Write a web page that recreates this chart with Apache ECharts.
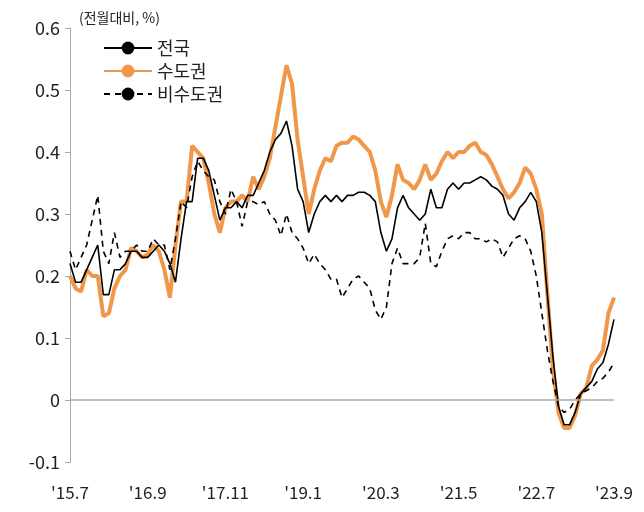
<!DOCTYPE html>
<html>
<head>
<meta charset="utf-8">
<script src="https://cdn.jsdelivr.net/npm/echarts@6/dist/echarts.min.js"></script>
<style>html,body{margin:0;padding:0;background:#fff}#chart{width:644px;height:512px}</style>
</head>
<body>
<div id="chart"></div>
<script>
// 2015.7 ~ 2023.9, monthly
const months = [];
for (let y = 2015, m = 7; y < 2023 || (y === 2023 && m <= 9); m++) {
  if (m > 12) { m = 1; y++; }
  months.push("'" + String(y).slice(2) + '.' + m);
}

const national = [0.22,0.19,0.19,0.21,0.23,0.25,0.17,0.17,0.21,0.21,0.22,0.24,0.24,0.23,0.23,0.24,0.25,0.24,0.22,0.19,
  0.26,0.32,0.32,0.39,0.39,0.37,0.33,0.29,0.31,0.31,0.32,0.31,0.33,0.33,0.35,0.37,0.40,0.42,0.43,0.45,
  0.41,0.34,0.32,0.27,0.30,0.32,0.33,0.32,0.33,0.32,0.33,0.33,0.335,0.335,0.33,0.32,0.27,0.24,0.26,0.31,
  0.33,0.31,0.30,0.29,0.30,0.34,0.31,0.31,0.34,0.35,0.34,0.35,0.35,0.355,0.36,0.355,0.345,0.34,0.33,0.30,
  0.29,0.31,0.32,0.335,0.32,0.27,0.17,0.07,-0.01,-0.04,-0.04,-0.02,0.01,0.02,0.03,0.05,0.06,0.09,0.13];

const capital = [0.20,0.18,0.175,0.21,0.20,0.20,0.135,0.14,0.18,0.20,0.21,0.245,0.24,0.23,0.235,0.25,0.24,0.21,0.165,0.25,
  0.32,0.32,0.41,0.40,0.39,0.35,0.30,0.27,0.31,0.32,0.32,0.33,0.32,0.36,0.34,0.36,0.39,0.44,0.49,0.54,
  0.51,0.42,0.36,0.30,0.34,0.37,0.39,0.385,0.41,0.415,0.415,0.425,0.42,0.41,0.40,0.37,0.32,0.295,0.33,0.38,
  0.355,0.35,0.34,0.355,0.38,0.355,0.365,0.385,0.40,0.39,0.40,0.40,0.41,0.415,0.40,0.395,0.38,0.36,0.34,0.325,
  0.335,0.35,0.375,0.365,0.34,0.30,0.17,0.05,-0.02,-0.045,-0.045,-0.025,0.01,0.02,0.055,0.065,0.08,0.14,0.165];

const nonCapital = [0.24,0.21,0.23,0.25,0.29,0.33,0.24,0.22,0.27,0.23,0.24,0.24,0.25,0.24,0.24,0.26,0.25,0.25,0.21,0.26,
  0.32,0.31,0.36,0.385,0.37,0.36,0.355,0.32,0.30,0.34,0.32,0.28,0.32,0.32,0.315,0.32,0.30,0.29,0.265,0.30,
  0.27,0.26,0.245,0.22,0.235,0.22,0.21,0.195,0.195,0.165,0.18,0.195,0.20,0.19,0.18,0.145,0.13,0.15,0.22,0.245,
  0.22,0.22,0.22,0.23,0.285,0.22,0.215,0.24,0.26,0.265,0.26,0.27,0.27,0.26,0.26,0.255,0.26,0.255,0.23,0.245,
  0.26,0.265,0.26,0.24,0.20,0.14,0.08,0.03,-0.01,-0.02,-0.015,0.00,0.01,0.015,0.02,0.03,0.035,0.045,0.06];

const yTicks = { min: -0.1, max: 0.6, interval: 0.1 };
const font = 'Noto Sans CJK KR';

const chart = echarts.init(document.getElementById('chart'));
chart.setOption({
  animation: false,
  textStyle: { fontFamily: font },
  title: { text: '(전월대비, %)', left: 74, top: 6, textStyle: { fontSize: 14, fontWeight: 'normal', color: '#222', fontFamily: font } },
  legend: {
    orient: 'vertical', left: 98, top: 34, itemGap: 5, itemWidth: 48, itemHeight: 16,
    textStyle: { fontSize: 18, color: '#222', fontFamily: font },
    data: ['전국', '수도권', '비수도권']
  },
  grid: { left: 70, right: 30, top: 28, bottom: 50 },
  xAxis: {
    type: 'category', data: months, boundaryGap: false,
    axisLine: { show: false }, axisTick: { show: false },
    axisLabel: { interval: 13, fontSize: 17, color: '#222', margin: 22, fontFamily: font }
  },
  yAxis: {
    type: 'value', min: yTicks.min, max: yTicks.max, interval: yTicks.interval,
    splitLine: { show: false },
    axisLine: { show: true, lineStyle: { color: '#aaa' } },
    axisTick: { show: true, length: 5, lineStyle: { color: '#aaa' } },
    axisLabel: { fontSize: 18, color: '#222', margin: 10, fontFamily: font,
      formatter: v => Math.abs(v) < 1e-9 ? '0' : v.toFixed(1) }
  },
  series: [
    { name: '전국', type: 'line', data: national, symbol: 'none', z: 3,
      lineStyle: { color: '#000', width: 1.6 }, itemStyle: { color: '#000' },
      markLine: { silent: true, symbol: 'none', label: { show: false },
        lineStyle: { color: '#aaa', type: 'solid', width: 1.5 }, data: [{ yAxis: 0 }] } },
    { name: '수도권', type: 'line', data: capital, symbol: 'none', z: 2,
      lineStyle: { color: '#f0974a', width: 4 }, itemStyle: { color: '#f0974a' } },
    { name: '비수도권', type: 'line', data: nonCapital, symbol: 'none', z: 4,
      lineStyle: { color: '#000', width: 1.6, type: [6, 5] }, itemStyle: { color: '#000' } }
  ]
});
</script>
</body>
</html>
